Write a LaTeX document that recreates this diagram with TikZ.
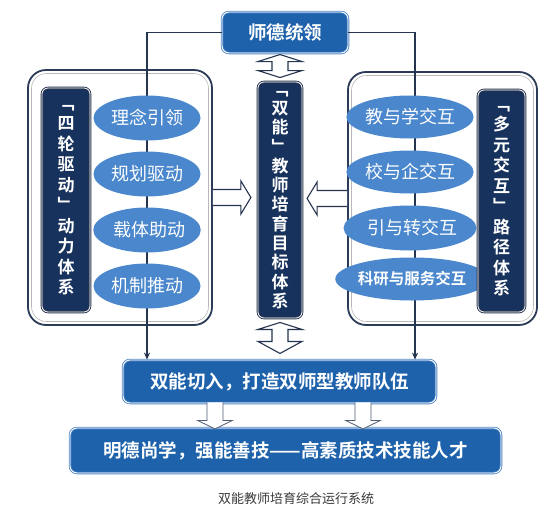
\documentclass[tikz,border=0pt]{standalone}
\usepackage{fontspec}
\setmainfont{Noto Sans CJK SC}[BoldFont={* Bold}]
\usetikzlibrary{calc,shapes.geometric,arrows.meta}
\definecolor{boxblue}{HTML}{1E62AB}
\definecolor{boxedge}{HTML}{4F86C6}
\definecolor{ellblue}{HTML}{4A87CC}
\definecolor{navy}{HTML}{17325C}
\definecolor{navyedge}{HTML}{2A3550}
\definecolor{darkline}{HTML}{25344F}
\definecolor{bigedge}{HTML}{2C3B57}
\definecolor{capgray}{HTML}{3A3A3A}
\tikzset{
  bluebox/.style={draw=boxedge, double=white, double distance=0.9pt, line width=0.8pt,
    fill=boxblue, rounded corners=7pt, text=white, inner sep=0pt,
    font=\fontsize{18.5}{20}\selectfont\bfseries},
  navybox/.style={draw=navyedge, double=white, double distance=0.8pt, line width=0.9pt,
    fill=navy, rounded corners=6pt, text=white, inner sep=0pt, align=center,
    font=\fontsize{17}{20.5}\selectfont\bfseries},
  bigbox/.style={draw=bigedge, line width=1.8pt, fill=white, rounded corners=18pt, inner sep=0pt},
  biginner/.style={draw=gray!55, line width=0.6pt, rounded corners=15pt, inner sep=0pt},
  ellnode/.style={ellipse, fill=ellblue, text=white, inner sep=0pt,
    font=\fontsize{18}{20}\selectfont},
  conn/.style={draw=darkline, line width=1.3pt},
  blockarr/.style={draw=darkline, line width=1.1pt, fill=white, line join=miter},
  captext/.style={text=capgray, font=\fontsize{13}{15}\selectfont}
}
\begin{document}
\begin{tikzpicture}[x=1pt,y=-1pt]
\useasboundingbox (0,0) rectangle (559,514);
\fill[white] (0,0) rectangle (559,514);

% big boxes
\node[bigbox, minimum width=184, minimum height=255] (LB) at (120,197.5) {};
\node[biginner, minimum width=177, minimum height=248] (LBi) at (120,197.5) {};
\node[bigbox, minimum width=189, minimum height=253] (RB) at (442.5,198.5) {};
\node[biginner, minimum width=182, minimum height=246] (RBi) at (442.5,198.5) {};

% top and bottom boxes
\node[bluebox, minimum width=126, minimum height=41] (T) at (285,32.5) {师德统领};
\node[bluebox, minimum width=313, minimum height=43] (B1) at (279.5,381.5) {双能切入，打造双师型教师队伍};
\node[bluebox, minimum width=431, minimum height=45] (B2) at (285.5,450.5) {明德尚学，强能善技——高素质技术技能人才};

% connectors
\coordinate (lc) at (147,0);
\coordinate (rc) at (415,0);
\draw[conn,-{Stealth[length=7pt,width=6pt]}] (T.west) -| (lc |- B1.north);
\draw[conn,-{Stealth[length=7pt,width=6pt]}] (T.east) -| (rc |- B1.north);

% ellipses left
\node[ellnode, minimum width=107, minimum height=45] (L1) at (147,118) {理念引领};
\node[ellnode, minimum width=107, minimum height=45] (L2) at (147,174) {规划驱动};
\node[ellnode, minimum width=107, minimum height=45] (L3) at (147,230) {\hspace*{4pt}载体助动};
\node[ellnode, minimum width=107, minimum height=45] (L4) at (147,286) {机制推动};

% ellipses right
\node[ellnode, minimum width=116, minimum height=43] (R1) at (410,117) {教与学交互};
\node[ellnode, minimum width=116, minimum height=43] (R2) at (410,172) {校与企交互};
\node[ellnode, minimum width=116, minimum height=45] (R3) at (410,228) {\hspace*{4pt}引与转交互};
\node[ellnode, minimum width=120, minimum height=43, font=\fontsize{15.5}{17}\selectfont\bfseries] (R4) at (412,279) {科研与服务交互};

% navy vertical boxes
\node[navybox, minimum width=48, minimum height=224] (LD) at (66,200) {﹁\\四\\轮\\驱\\动\\﹂\\动\\力\\体\\系};
\node[navybox, minimum width=47, minimum height=222] (RD) at (501.5,201) {﹁\\多\\元\\交\\互\\﹂\\路\\径\\体\\系};
\node[navybox, minimum width=44, minimum height=236, font=\fontsize{17}{19.3}\selectfont\bfseries] (C) at (280,200) {﹁\\双\\能\\﹂\\教\\师\\培\\育\\目\\标\\体\\系};

% horizontal block arrows
\draw[blockarr] ($(LB.east)+(0,-8)$) -- ++(28,0) -- ++(0,-8.5) -- ++(10,16.5) -- ++(-10,16.5) -- ++(0,-8.5) -- ++(-28,0);
\draw[blockarr] ($(RB.west)+(0,-8)$) -- ++(-30,0) -- ++(0,-8.5) -- ++(-10,16.5) -- ++(10,16.5) -- ++(0,-8.5) -- ++(30,0);

% vertical double arrows
\draw[blockarr] ($(C.north)+(0,-27)$) -- ++(22,7) -- ++(-14,0) -- ++(0,9) -- ++(14,0) -- ++(-22,7) -- ++(-22,-7) -- ++(14,0) -- ++(0,-9) -- ++(-14,0) -- cycle;
\draw[blockarr] ($(C.south)+(0,4)$) -- ++(22,7) -- ++(-14,0) -- ++(0,12) -- ++(14,0) -- ++(-22,12) -- ++(-22,-12) -- ++(14,0) -- ++(0,-12) -- ++(-14,0) -- cycle;

% down block arrows between bottom boxes
\coordinate (a1) at (215,0);
\coordinate (a2) at (363,0);
\draw[blockarr, line width=0.8pt, draw=darkline!80] ($(a1 |- B1.south)+(-8,-1)$) -- ++(0,18) -- ++(-9.5,0) -- ++(17.5,8.5) -- ++(17.5,-8.5) -- ++(-9.5,0) -- ++(0,-18);
\draw[blockarr, line width=0.8pt, draw=darkline!80] ($(a2 |- B1.south)+(-8,-1)$) -- ++(0,18) -- ++(-9.5,0) -- ++(17.5,8.5) -- ++(17.5,-8.5) -- ++(-9.5,0) -- ++(0,-18);

% caption
\node[captext] (capt) at (296,499) {双能教师培育综合运行系统};
\end{tikzpicture}
\end{document}
